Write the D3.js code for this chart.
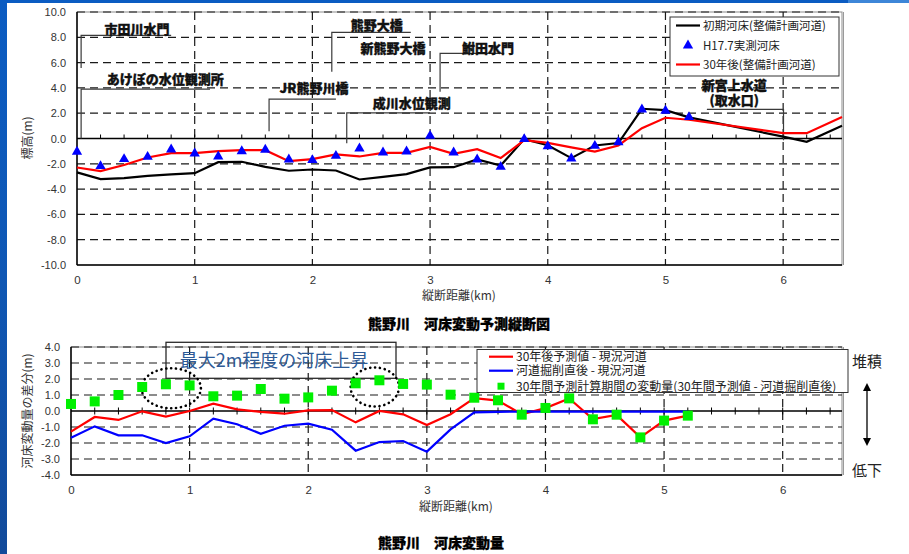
<!DOCTYPE html>
<html>
<head>
<meta charset="utf-8">
<script src="https://cdn.jsdelivr.net/npm/d3@7"></script>
<style>
  html, body { margin: 0; padding: 0; background: #fff; }
  svg { display: block; }
  text { font-family: "Noto Sans CJK JP", "Liberation Sans", sans-serif; }
  .num { font-family: "Liberation Sans", Arial, sans-serif; }
</style>
</head>
<body>
<svg id="chart" width="909" height="554"></svg>
<script>
// ---- 熊野川 河床変動予測縦断図 : data ----
const profileKm = [0, 0.2, 0.4, 0.6, 0.8, 1.0, 1.2, 1.4, 1.6, 1.8, 2.0, 2.2, 2.4, 2.6, 2.8, 3.0,
                   3.2, 3.4, 3.6, 3.8, 4.0, 4.2, 4.4, 4.6, 4.8, 5.0, 5.2, 6.0, 6.2, 6.5];
const bedInitial = [-2.68, -3.21, -3.13, -2.95, -2.84, -2.74, -1.87, -1.84, -2.24, -2.55, -2.45, -2.53,
                    -3.24, -3.03, -2.82, -2.29, -2.27, -1.66, -2.13, -0.05, -0.53, -1.55, -0.55, -0.36,
                    2.35, 2.24, 1.67, 0.15, -0.26, 1.0];
const bedAfter30 = [-2.29, -2.58, -2.10, -1.50, -1.16, -1.16, -1.00, -0.92, -0.92, -1.79, -1.63, -1.26,
                    -1.42, -1.13, -1.13, -0.66, -1.21, -0.84, -1.55, -0.13, -0.34, -0.70, -1.03, -0.55,
                    0.82, 1.64, 1.48, 0.42, 0.42, 1.69];
const surveyKm = [0, 0.2, 0.4, 0.6, 0.8, 1.0, 1.2, 1.4, 1.6, 1.8, 2.0, 2.2, 2.4, 2.6, 2.8, 3.0,
                  3.2, 3.4, 3.6, 3.8, 4.0, 4.2, 4.4, 4.6, 4.8, 5.0, 5.2];
const bedSurveyH17 = [-1.05, -2.18, -1.63, -1.45, -0.87, -1.18, -1.42, -1.00, -0.89, -1.66, -1.71, -1.37,
                      -0.79, -1.10, -1.03, 0.21, -1.10, -1.66, -2.24, -0.05, -0.61, -1.58, -0.58, -0.29,
                      2.30, 2.19, 1.69];
const profileYTicks = [10, 8, 6, 4, 2, 0, -2, -4, -6, -8, -10];
const kmTicks = [0, 1, 2, 3, 4, 5, 6];
const profileLegend = ["初期河床(整備計画河道)", "H17.7実測河床", "30年後(整備計画河道)"];

// ---- 熊野川 河床変動量 : data ----
const diffKm = [0, 0.2, 0.4, 0.6, 0.8, 1.0, 1.2, 1.4, 1.6, 1.8, 2.0, 2.2, 2.4, 2.6, 2.8, 3.0,
                3.2, 3.4, 3.6, 3.8, 4.0, 4.2, 4.4, 4.6, 4.8, 5.0, 5.2];
const diffAfter30 = [-1.29, -0.375, -0.56, -0.02, -0.35, 0.0, 0.46, 0.10, -0.06, -0.17, 0.04, 0.06,
                     -0.71, 0.0, -0.21, -0.875, -0.20, 0.80, 0.65, -0.20, 0.18, 0.78, -0.50, -0.24,
                     -1.65, -0.60, -0.29];
const diffExcavated = [-1.67, -0.96, -1.52, -1.52, -2.00, -1.58, -0.48, -0.83, -1.42, -0.92, -0.79, -1.17,
                       -2.48, -1.94, -1.875, -2.54, -1.15, -0.08, -0.05, -0.04, -0.04, -0.04, -0.04, -0.04,
                       -0.04, -0.04, -0.04];
const change30yr = [0.44, 0.60, 1.00, 1.50, 1.67, 1.60, 0.92, 0.96, 1.375, 0.77, 0.85, 1.27,
                    1.73, 1.92, 1.69, 1.65, 1.02, 0.83, 0.67, -0.23, 0.19, 0.79, -0.52, -0.23,
                    -1.65, -0.60, -0.29];
const diffYTicks = [4, 3, 2, 1, 0, -1, -2, -3, -4];
const diffLegend = ["30年後予測値 - 現況河道", "河道掘削直後 - 現況河道",
                    "30年間予測計算期間の変動量(30年間予測値 - 河道掘削直後)"];

const svg = d3.select("#chart");

// ---- page backdrop ----
const defs = svg.append("defs");
const band = defs.append("linearGradient").attr("id", "band").attr("x1", 0).attr("y1", 0).attr("x2", 0).attr("y2", 1);
band.append("stop").attr("offset", "0%").attr("stop-color", "#0b5cc2");
band.append("stop").attr("offset", "50%").attr("stop-color", "#0f57b4");
band.append("stop").attr("offset", "100%").attr("stop-color", "#124a9a");
svg.append("rect").attr("width", 909).attr("height", 554).attr("fill", "#fff");
svg.append("rect").attr("x", 0).attr("y", 0).attr("width", 7).attr("height", 554).attr("fill", "url(#band)");
svg.append("rect").attr("x", 0).attr("y", 0).attr("width", 848).attr("height", 3).attr("fill", "#0b5cc2");
svg.append("rect").attr("x", 848).attr("y", 0).attr("width", 61).attr("height", 3).attr("fill", "#3d86d8");

const DASH = "8,5";
const fmt1 = d => d.toFixed(1);

function drawFrame(g, x, y, hGrid, vGrid) {
  const [x0, x1] = x.range();
  const [yb, yt] = y.range();
  g.append("rect").attr("x", x0).attr("y", yt).attr("width", x1 - x0).attr("height", yb - yt)
    .attr("fill", "none").attr("stroke", "#8c8c8c").attr("stroke-width", 1);
  g.append("line").attr("x1", x1 + 1.5).attr("x2", x1 + 1.5).attr("y1", yt).attr("y2", yb)
    .attr("stroke", "#9a9a9a").attr("stroke-width", 1);
  g.selectAll(null).data(hGrid).join("line")
    .attr("x1", x0).attr("x2", x1).attr("y1", d => y(d)).attr("y2", d => y(d))
    .attr("stroke", "#1a1a1a").attr("stroke-width", 1.2).attr("stroke-dasharray", DASH);
  g.selectAll(null).data(vGrid).join("line")
    .attr("x1", d => x(d)).attr("x2", d => x(d)).attr("y1", yt).attr("y2", yb)
    .attr("stroke", "#1a1a1a").attr("stroke-width", 1.2).attr("stroke-dasharray", DASH);
  // axis lines
  g.append("line").attr("x1", x0).attr("x2", x0).attr("y1", yt).attr("y2", yb).attr("stroke", "#000").attr("stroke-width", 1.5);
  g.append("line").attr("x1", x0).attr("x2", x1).attr("y1", yb).attr("y2", yb).attr("stroke", "#000").attr("stroke-width", 1.5);
  g.append("line").attr("x1", x0).attr("x2", x1).attr("y1", y(0)).attr("y2", y(0)).attr("stroke", "#000").attr("stroke-width", 1.5);
}

function drawAxes(g, x, y, yTicks, padL) {
  const ay = g.append("g").attr("transform", `translate(${x.range()[0]},0)`)
    .call(d3.axisLeft(y).tickValues(yTicks).tickSize(0).tickPadding(padL).tickFormat(fmt1));
  ay.select(".domain").remove();
  ay.selectAll("text").attr("class", "num").attr("font-size", 11).attr("fill", "#333");
  const ax = g.append("g").attr("transform", `translate(0,${y.range()[0]})`)
    .call(d3.axisBottom(x).tickValues(kmTicks).tickSize(0).tickPadding(11).tickFormat(d3.format("d")));
  ax.select(".domain").remove();
  ax.selectAll("text").attr("class", "num").attr("font-size", 11.5).attr("fill", "#333");
}

// =================== upper chart ===================
const xTop = d3.scaleLinear().domain([0, 6.5]).range([77, 842]);
const yTop = d3.scaleLinear().domain([-10, 10]).range([265, 12]);
const gTop = svg.append("g");
drawFrame(gTop, xTop, yTop, profileYTicks.filter(d => d !== 0 && d !== -10), kmTicks.filter(d => d > 0));
// minor distance ticks along the zero line
gTop.selectAll(null).data(d3.range(0.2, 6.45, 0.2)).join("line")
  .attr("x1", d => xTop(d)).attr("x2", d => xTop(d)).attr("y1", yTop(0)).attr("y2", yTop(0) - 4)
  .attr("stroke", "#000").attr("stroke-width", 1);
drawAxes(gTop, xTop, yTop, profileYTicks, 11);

// landmark callouts (positions in km / m)
const callouts = [
  { text: ["市田川水門"], tx: 0.51, ty: 8.65, path: [[0.035, 5.57], [0.035, 8.15], [0.80, 8.15]] },
  { text: ["あけぼの水位観測所"], tx: 0.75, ty: 4.65, path: [[0.035, 0.0], [0.035, 3.9], [1.13, 3.9]] },
  { text: ["熊野大橋"], tx: 2.547, ty: 8.97, path: [[2.165, 5.27], [2.165, 8.39], [2.836, 8.39]] },
  { text: ["新熊野大橋"], tx: 2.686, ty: 7.15, path: null },
  { text: ["鮒田水門"], tx: 3.493, ty: 7.15, path: [[3.085, 3.69], [3.085, 6.73], [3.63, 6.73]] },
  { text: ["JR熊野川橋"], tx: 2.014, ty: 3.96, path: [[1.632, 0.58], [1.632, 3.11], [2.2, 3.11]] },
  { text: ["成川水位観測"], tx: 2.845, ty: 2.82, path: [[2.292, -0.37], [2.292, 2.03], [3.0, 2.03]] },
  { text: ["新宮上水道", "(取水口)"], tx: 5.584, ty: 4.22, path: [[5.352, 2.3], [6.003, 2.3], [6.003, -0.13]] }
];
const calloutLine = d3.line().x(d => xTop(d[0])).y(d => yTop(d[1]));
callouts.forEach(c => {
  if (c.path) {
    gTop.append("path").attr("d", calloutLine(c.path)).attr("fill", "none")
      .attr("stroke", "#3a3a3a").attr("stroke-width", 1.2);
  }
  const t = gTop.append("text").attr("x", xTop(c.tx)).attr("y", yTop(c.ty))
    .attr("text-anchor", "middle").attr("font-size", 13)
    .attr("font-weight", 900).attr("fill", "#111").attr("stroke", "#111").attr("stroke-width", 0.35);
  c.text.forEach((s, i) => {
    t.append("tspan").attr("x", xTop(c.tx)).attr("dy", i === 0 ? "0.36em" : "15.7px").text(s);
  });
});

// series
const lineTop = d3.line().x(d => xTop(d[0])).y(d => yTop(d[1]));
gTop.append("path").datum(profileKm.map((k, i) => [k, bedInitial[i]]))
  .attr("d", lineTop).attr("fill", "none").attr("stroke", "#000").attr("stroke-width", 2.2);
gTop.append("path").datum(profileKm.map((k, i) => [k, bedAfter30[i]]))
  .attr("d", lineTop).attr("fill", "none").attr("stroke", "#ff0000").attr("stroke-width", 2.2);
const tri = d3.symbol(d3.symbolTriangle).size(46);
gTop.selectAll(null).data(surveyKm.map((k, i) => [k, bedSurveyH17[i]])).join("path")
  .attr("d", tri).attr("transform", d => `translate(${xTop(d[0])},${yTop(d[1])})`).attr("fill", "#0000ff");

// legend
const lg1 = gTop.append("g");
lg1.append("rect").attr("x", 670).attr("y", 17).attr("width", 169).attr("height", 59)
  .attr("fill", "#fff").attr("stroke", "#333").attr("stroke-width", 1);
const lg1y = [25.5, 45.5, 64.5];
lg1.append("line").attr("x1", 676).attr("x2", 700).attr("y1", lg1y[0]).attr("y2", lg1y[0]).attr("stroke", "#000").attr("stroke-width", 2.2);
lg1.append("path").attr("d", tri).attr("transform", `translate(688,${lg1y[1]})`).attr("fill", "#0000ff");
lg1.append("line").attr("x1", 676).attr("x2", 700).attr("y1", lg1y[2]).attr("y2", lg1y[2]).attr("stroke", "#ff0000").attr("stroke-width", 2.2);
profileLegend.forEach((t, i) => {
  lg1.append("text").attr("x", 703).attr("y", lg1y[i]).attr("dy", "0.36em")
    .attr("font-size", 11.5).attr("fill", "#222").text(t);
});

// axis titles
svg.append("text").attr("transform", "translate(28,138) rotate(-90)").attr("text-anchor", "middle")
  .attr("dy", "0.36em").attr("font-size", 12).attr("fill", "#333").text("標高(m)");
svg.append("text").attr("x", 459).attr("y", 296).attr("text-anchor", "middle").attr("dy", "0.36em")
  .attr("font-size", 12).attr("fill", "#333").text("縦断距離(km)");
svg.append("text").attr("x", 459).attr("y", 323.5).attr("text-anchor", "middle").attr("dy", "0.36em")
  .attr("font-size", 14).attr("font-weight", 900).attr("fill", "#000").attr("stroke", "#000").attr("stroke-width", 0.3)
  .text("熊野川　河床変動予測縦断図");

// =================== lower chart ===================
const xBot = d3.scaleLinear().domain([0, 6.5]).range([71, 842]);
const yBot = d3.scaleLinear().domain([-4, 4]).range([475, 347]);
const gBot = svg.append("g");
drawFrame(gBot, xBot, yBot, diffYTicks.filter(d => d !== 0 && d !== -4), kmTicks.filter(d => d > 0));
gBot.selectAll(null).data(d3.range(0.2, 6.45, 0.2)).join("line")
  .attr("x1", d => xBot(d)).attr("x2", d => xBot(d)).attr("y1", yBot(0) - 3.5).attr("y2", yBot(0) + 3.5)
  .attr("stroke", "#000").attr("stroke-width", 1);
drawAxes(gBot, xBot, yBot, diffYTicks, 11);

// highlight box and circled reaches
gBot.append("rect").attr("x", 166).attr("y", 342.3).attr("width", 230).attr("height", 36)
  .attr("fill", "none").attr("stroke", "#2a2a2a").attr("stroke-width", 1.3);
gBot.append("text").attr("x", 274).attr("y", 360.5).attr("dy", "0.36em").attr("text-anchor", "middle")
  .attr("font-size", 18).attr("fill", "#2d5a96").text("最大2m程度の河床上昇");
const rings = [{ km: 0.845, v: 1.42, rk: 0.25, rv: 1.25 }, { km: 2.561, v: 1.5, rk: 0.204, rv: 1.22 }];
gBot.selectAll(null).data(rings).join("ellipse")
  .attr("cx", d => xBot(d.km)).attr("cy", d => yBot(d.v))
  .attr("rx", d => xBot(d.rk) - xBot(0)).attr("ry", d => yBot(0) - yBot(d.rv))
  .attr("fill", "none").attr("stroke", "#000").attr("stroke-width", 2.6)
  .attr("stroke-dasharray", "0.1,4.8").attr("stroke-linecap", "round");

const lineBot = d3.line().x(d => xBot(d[0])).y(d => yBot(d[1]));
gBot.append("path").datum(diffKm.map((k, i) => [k, diffAfter30[i]]))
  .attr("d", lineBot).attr("fill", "none").attr("stroke", "#ff0000").attr("stroke-width", 2.2);
gBot.append("path").datum(diffKm.map((k, i) => [k, diffExcavated[i]]))
  .attr("d", lineBot).attr("fill", "none").attr("stroke", "#0000ff").attr("stroke-width", 2.2);
const sq = d3.symbol(d3.symbolSquare).size(100);
gBot.selectAll(null).data(diffKm.map((k, i) => [k, change30yr[i]])).join("path")
  .attr("d", sq).attr("transform", d => `translate(${xBot(d[0])},${yBot(d[1])})`).attr("fill", "#00f000");

// legend
const lg2 = gBot.append("g");
lg2.append("rect").attr("x", 477).attr("y", 349.5).attr("width", 371).attr("height", 43)
  .attr("fill", "#fff").attr("stroke", "#333").attr("stroke-width", 1);
const lg2y = [356.7, 370.7, 386.2];
lg2.append("line").attr("x1", 489).attr("x2", 513).attr("y1", lg2y[0]).attr("y2", lg2y[0]).attr("stroke", "#ff0000").attr("stroke-width", 2.2);
lg2.append("line").attr("x1", 489).attr("x2", 513).attr("y1", lg2y[1]).attr("y2", lg2y[1]).attr("stroke", "#0000ff").attr("stroke-width", 2.2);
lg2.append("path").attr("d", d3.symbol(d3.symbolSquare).size(49)).attr("transform", `translate(501,${lg2y[2]})`).attr("fill", "#00f000");
const lg2text = lg2.append("text").attr("font-size", 12).attr("fill", "#222");
diffLegend.forEach((t, i) => {
  lg2text.append("tspan").attr("x", 516).attr("y", lg2y[i]).attr("dy", "0.36em").text(t);
});

// deposition / degradation marker
svg.append("text").attr("x", 867).attr("y", 362).attr("dy", "0.36em").attr("text-anchor", "middle")
  .attr("font-size", 15).attr("fill", "#222").text("堆積");
svg.append("text").attr("x", 867).attr("y", 471).attr("dy", "0.36em").attr("text-anchor", "middle")
  .attr("font-size", 15).attr("fill", "#222").text("低下");
svg.append("line").attr("x1", 867).attr("x2", 867).attr("y1", 389).attr("y2", 440).attr("stroke", "#000").attr("stroke-width", 1.3);
svg.append("path").attr("d", "M867,383 L863,391 L871,391 Z").attr("fill", "#000");
svg.append("path").attr("d", "M867,446 L863,438 L871,438 Z").attr("fill", "#000");

svg.append("text").attr("transform", "translate(28,411) rotate(-90)").attr("text-anchor", "middle")
  .attr("dy", "0.36em").attr("font-size", 12).attr("fill", "#333").text("河床変動量の差分(m)");
svg.append("text").attr("x", 456).attr("y", 507).attr("text-anchor", "middle").attr("dy", "0.36em")
  .attr("font-size", 12).attr("fill", "#333").text("縦断距離(km)");
svg.append("text").attr("x", 441).attr("y", 542.5).attr("text-anchor", "middle").attr("dy", "0.36em")
  .attr("font-size", 14).attr("font-weight", 900).attr("fill", "#000").attr("stroke", "#000").attr("stroke-width", 0.3)
  .text("熊野川　河床変動量");
</script>
</body>
</html>
